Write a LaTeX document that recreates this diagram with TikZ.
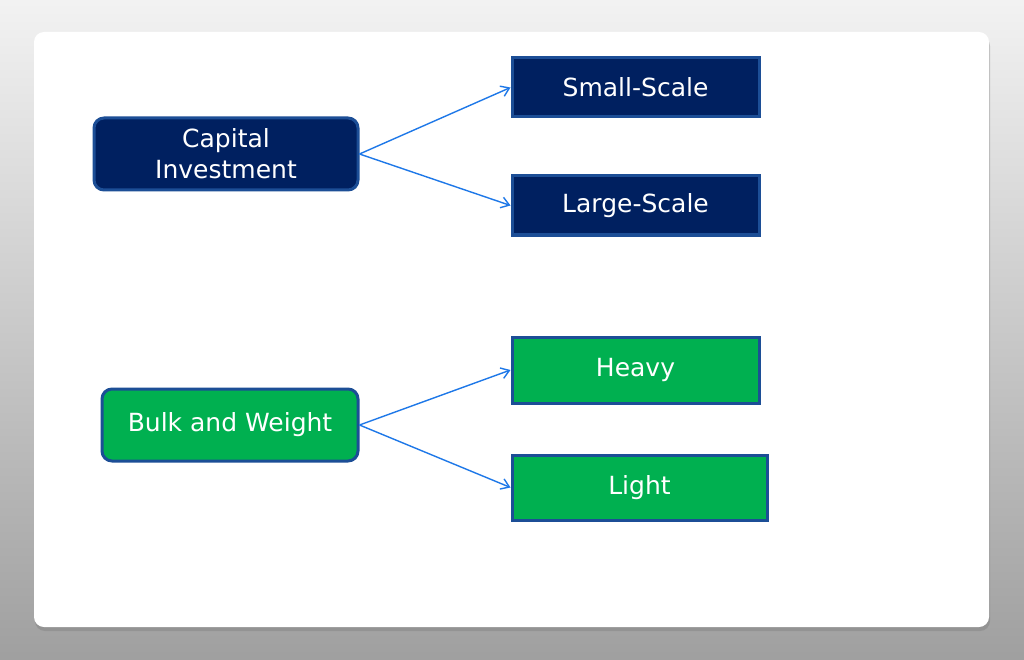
\documentclass[tikz,border=0pt]{standalone}
\usepackage{fontspec}
\setmainfont{DejaVu Sans}
\usetikzlibrary{arrows,arrows.meta,shadows}

\definecolor{navyfill}{RGB}{0,32,96}
\definecolor{greenfill}{RGB}{0,176,80}
\definecolor{boxline}{RGB}{28,78,150}
\definecolor{linkblue}{RGB}{30,120,232}

\begin{document}
\begin{tikzpicture}[
            x = 1pt, y = -1pt, % pixel units, y downwards
            > = {Straight Barb[length=8pt, width=11pt]}, % arrow head style
            every node/.style = {font=\fontsize{25}{31}\selectfont, text=white, align=center},
            navy/.style = {draw=boxline, fill=navyfill, line width=3pt},
            green/.style = {draw=boxline, fill=greenfill, line width=3pt},
            root/.style = {rounded corners=10pt, inner sep=0pt},
            leaf/.style = {inner sep=0pt},
            link/.style = {->, draw=linkblue, line width=1.4pt}
        ]

	% page and card
	\shade[top color=gray!10, bottom color=gray!75] (0,0) rectangle (1024,660);
	\useasboundingbox (0,0) rectangle (1024,660);
	\fill[white, rounded corners=10pt, drop shadow={shadow xshift=1pt, shadow yshift=-4pt, opacity=.45}] (34,32) rectangle (989,627);

	% capital investment
	\node[navy, root, minimum width=264pt, minimum height=72pt] (ci) at (226,154) {Capital\\Investment};
	\node[navy, leaf, minimum width=247pt, minimum height=59pt] (ss) at (635.5,87.5) {Small-Scale};
	\node[navy, leaf, minimum width=247pt, minimum height=59pt] (ls) at (635.5,205.5) {Large-Scale};

	% bulk and weight
	\node[green, root, minimum width=256pt, minimum height=72pt] (bw) at (230,425) {Bulk and Weight};
	\node[green, leaf, minimum width=247pt, minimum height=66pt] (hv) at (635.5,370) {Heavy};
	\node[green, leaf, minimum width=255pt, minimum height=65pt] (lt) at (639.5,487.5) {Light};

	\draw[link] (ci.east) -- (ss.west);
	\draw[link] (ci.east) -- (ls.west);
	\draw[link] (bw.east) -- (hv.west);
	\draw[link] (bw.east) -- (lt.west);

\end{tikzpicture}
\end{document}
